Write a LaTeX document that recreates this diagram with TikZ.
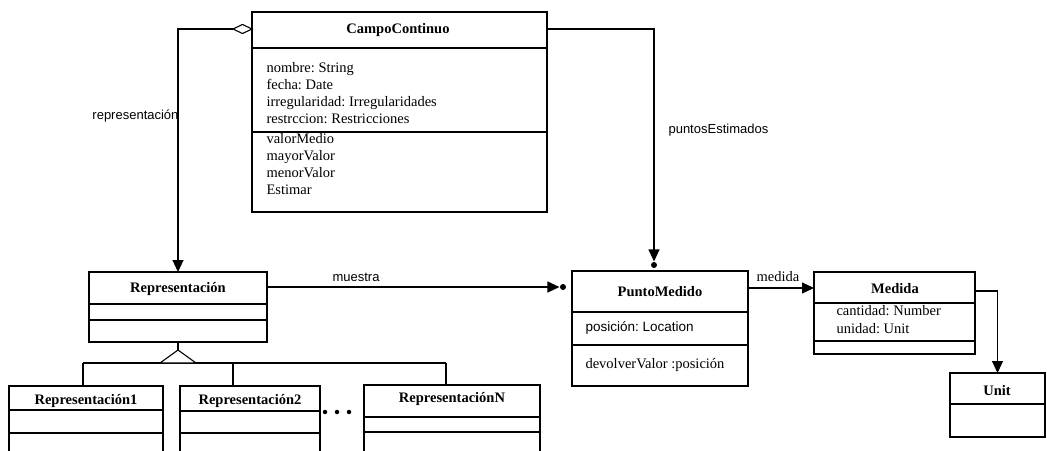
\documentclass[tikz,border=0pt]{standalone}
\usepackage{fontspec}
\setmainfont{Liberation Serif}
\setsansfont{Liberation Sans}
\usetikzlibrary{arrows.meta}
% class box from its corners: name, x1, y1, x2, y2
\newcommand\umlbox[5]{\node[box, minimum width=#4-#2, minimum height=#5-#3] (#1) at (#2,#3) {};}
% horizontal compartment line across a class box
\newcommand\umlsep[2]{\draw[line width=1.3pt] (#1.west |- 0,#2) -- (#1.east |- 0,#2);}
\frenchspacing
\begin{document}
\frenchspacing
\begin{tikzpicture}[x=1pt,y=-1pt,
  line width=1.1pt,
  box/.style={draw, line width=1.3pt, inner sep=0pt, outer sep=0pt, anchor=north west},
  ttl/.style={font=\fontsize{14.5}{16}\selectfont\bfseries, inner sep=0pt},
  attr/.style={font=\fontsize{14.5}{17}\selectfont, inner sep=0pt, anchor=west, align=left},
  sattr/.style={font=\sffamily\fontsize{13.5}{16}\selectfont, inner sep=0pt, anchor=west},
  lbl/.style={font=\sffamily\fontsize{13}{15}\selectfont, inner sep=0pt},
  slbl/.style={font=\fontsize{14.5}{16}\selectfont, inner sep=0pt},
  tip/.style={-{Triangle[length=12pt,width=11pt]}},
  dot/.style={circle, fill, inner sep=0pt, minimum size=6pt},
]
\useasboundingbox (0,0) rectangle (1047,450);
\clip (0,0) rectangle (1047,450);

% CampoContinuo
\umlbox{cc}{252}{12}{547}{212}
\umlsep{cc}{48}
\umlsep{cc}{132}
\node[ttl] (ccT) at (398,30) {CampoContinuo};
\node[attr] (ccA) at (266,93) {nombre: String\\fecha: Date\\irregularidad: Irregularidades\\restrccion: Restricciones};
\node[attr] (ccO) at (266,164) {valorMedio\\mayorValor\\menorValor\\Estimar};

% Representacion and its subclasses
\umlbox{rep}{89}{272}{267}{342}
\umlsep{rep}{304}
\umlsep{rep}{320}
\node[ttl] (repT) at (178,289) {Representación};

\umlbox{r1}{9}{386}{163}{470}
\umlsep{r1}{410}
\umlsep{r1}{433}
\node[ttl] (r1T) at (86,401) {Representación1};

\umlbox{r2}{180}{386}{320}{470}
\umlsep{r2}{411}
\umlsep{r2}{433}
\node[ttl] (r2T) at (250,401) {Representación2};

\umlbox{rN}{364}{385}{540}{470}
\umlsep{rN}{417}
\umlsep{rN}{432}
\node[ttl] (rNT) at (452,399) {RepresentaciónN};

\node[dot, minimum size=4.5pt] (e1) at (325,412) {};
\node[dot, minimum size=4.5pt] (e2) at (337,412) {};
\node[dot, minimum size=4.5pt] (e3) at (349,412) {};

% PuntoMedido
\umlbox{pm}{572}{271}{748}{386}
\umlsep{pm}{312}
\umlsep{pm}{345}
\node[ttl] (pmT) at (660,292) {PuntoMedido};
\node[sattr] (pmA) at (585,328) {posición: Location};
\node[attr] (pmO) at (585,365) {devolverValor :posición};

% Medida
\umlbox{md}{814}{272}{975}{354}
\umlsep{md}{303}
\umlsep{md}{341}
\node[ttl] (mdT) at (895,289) {Medida};
\node[attr, font=\fontsize{14.5}{18}\selectfont] (mdA) at (836,320) {cantidad: Number\\unidad: Unit};

% Unit
\umlbox{un}{950}{373}{1045}{437}
\umlsep{un}{404}
\node[ttl] (unT) at (997,391) {Unit};

% aggregation: CampoContinuo -> Representacion
\coordinate (aggR) at (252,29);
\coordinate (aggL) at (233,29);
\draw[fill=white] (aggR) -- (242.5,24.5) -- (aggL) -- (242.5,33.5) -- cycle;
\draw[tip] (aggL) -| (rep.north);
\node[lbl, anchor=east] (lRep) at (179,116) {representación};

% CampoContinuo -> PuntoMedido
\node[dot] (dotP) at (654,265) {};
\draw[tip] (cc.east |- aggR) -| (dotP.north);
\node[lbl, anchor=west] (lPun) at (668,130) {puntosEstimados};

% Representacion -> PuntoMedido
\node[dot] (dotM) at (563,287) {};
\draw[tip] (rep.east |- dotM) -- (dotM.west);
\node[lbl] (lMue) at (356,277) {muestra};

% PuntoMedido -> Medida
\coordinate (mdIn) at (748,288);
\draw[tip] (pm.east |- mdIn) -- (md.west |- mdIn);
\node[slbl] (lMed) at (778,277) {medida};

% Medida -> Unit
\coordinate (unOut) at (975,291);
\draw[tip] (md.east |- unOut) -| (un.north);

% generalization
\coordinate (gApex) at (178,350);
\coordinate (b1) at (83,363);
\coordinate (b2) at (233,363);
\coordinate (bN) at (446,363);
\draw (rep.south) -- (gApex);
\draw (b1) -- (bN);
\draw[fill=white] (gApex) -- (196,363) -- (160,363) -- cycle;
\draw (b1) -- (b1 |- r1.north);
\draw (b2) -- (b2 |- r2.north);
\draw (bN) -- (bN |- rN.north);
\end{tikzpicture}
\end{document}
